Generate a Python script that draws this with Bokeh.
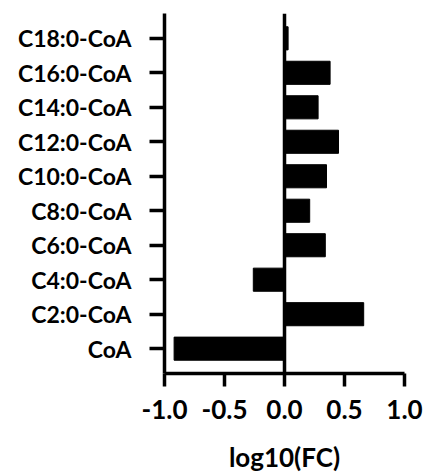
from bokeh.plotting import figure
from bokeh.models import FactorRange, FixedTicker, NumeralTickFormatter, Span
from bokeh.embed import file_html
from bokeh.resources import INLINE

categories = ["CoA", "C2:0-CoA", "C4:0-CoA", "C6:0-CoA", "C8:0-CoA",
              "C10:0-CoA", "C12:0-CoA", "C14:0-CoA", "C16:0-CoA", "C18:0-CoA"]
values = [-0.92, 0.66, -0.26, 0.34, 0.21, 0.35, 0.45, 0.28, 0.38, 0.03]
x_ticks = [-1.0, -0.5, 0.0, 0.5, 1.0]

FONT = "Lato"

p = figure(width=428, height=475, output_backend="svg", toolbar_location=None,
           y_range=FactorRange(*categories, range_padding=0.044),
           x_range=(-1.0, 1.0),
           min_border_left=164, min_border_right=24, min_border_top=13, min_border_bottom=101)

p.hbar(y=categories, right=values, left=0, height=0.67, color="black")

zero = Span(location=0, dimension="height", line_color="black", line_width=3.5)
p.add_layout(zero)

p.outline_line_color = None
p.xgrid.grid_line_color = None
p.ygrid.grid_line_color = None

for ax in (p.xaxis[0], p.yaxis[0]):
    ax.axis_line_width = 3.5
    ax.axis_line_color = "black"
    ax.major_tick_line_width = 3.5
    ax.major_tick_line_color = "black"
    ax.major_tick_in = 0
    ax.minor_tick_line_color = None
    ax.major_label_text_font = FONT
    ax.major_label_text_font_style = "bold"
    ax.major_label_text_color = "black"

p.yaxis.major_label_text_font_size = "23px"
p.yaxis.major_tick_out = 15
p.yaxis.major_label_standoff = 18
p.yaxis.group_text_font_size = "0px"

p.xaxis.major_label_text_font_size = "26px"
p.xaxis.major_tick_out = 13
p.xaxis.ticker = FixedTicker(ticks=x_ticks)
p.xaxis.formatter = NumeralTickFormatter(format="0.0")
p.xaxis.major_label_standoff = 13
p.xaxis.axis_label = "log10(FC)"
p.xaxis.axis_label_text_font = FONT
p.xaxis.axis_label_text_font_style = "bold"
p.xaxis.axis_label_text_font_size = "26px"
p.xaxis.axis_label_text_color = "black"
p.xaxis.axis_label_standoff = 19

open("out.html", "w").write(file_html(p, INLINE))
